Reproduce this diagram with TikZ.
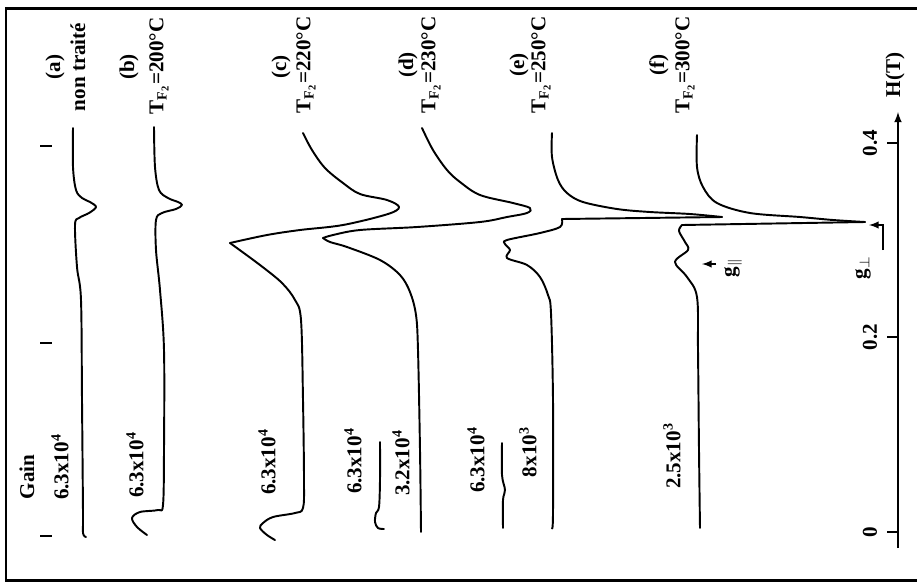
\documentclass[tikz,border=0pt]{standalone}
\usepackage{fontspec}
\setmainfont{Liberation Serif}
\begin{document}
\begin{tikzpicture}[x=0.02cm,y=-0.02cm,
    trace/.style={line width=1.1pt,line join=round,line cap=round},
    lbl/.style={rotate=90,inner sep=0pt,font=\fontsize{12}{13}\selectfont\bfseries},
    fieldtick/.style={line width=1.2pt}]
\useasboundingbox (0,0) rectangle (917,586);
\draw[line width=1.7pt] (6,8) rectangle (940,580);

% field axis
\coordinate (hbot) at (898,548);
\coordinate (htop) at (898,112);
\draw[line width=1pt,-latex] (hbot) -- (htop);
\node[lbl] (hlab) at (895,75) {H(T)};
\foreach \y/\t [count=\i] in {532/0,337/0.2,143/0.4}
{
    \draw[line width=1pt] (887,\y) -- (hbot|-0,\y);
    \node[lbl] (tick\i) at (870,\y) {\t};
}
\foreach \y in {146,343,536}
    \draw[fieldtick] (40,\y) -- (52,\y);

% spectra
\draw[trace] plot[smooth,tension=0.55] coordinates {(73,128) (73,167) (76,190) (82,198) (90,202) (96,207) (89,213) (79,218) (75,225) (77,267) (81,300) (82,400) (83,513) (83,533) (86,537)};
\draw[trace] plot[smooth,tension=0.55] coordinates {(154,127) (155,167) (159,190) (168,198) (178,202) (182,205) (176,209) (162,213) (156,220) (156,250) (160,290) (164,350) (164,450) (163,505) (158,510) (140,512) (132,518) (137,527) (147,535)};
\draw[trace] plot[smooth,tension=0.55] coordinates {(303,133) (312,150) (325,168) (343,183) (360,194) (387,200) (399,207) (388,214) (343,225) (300,230) (267,235) (230,243)};
\draw[trace] plot[smooth,tension=0.55] coordinates {(230,243) (260,265) (282,283) (295,300) (301,320) (303,400) (304,480) (303,508) (295,513) (273,517) (263,523) (260,528) (267,535) (275,540)};
\draw[trace] plot[smooth,tension=0.55] coordinates {(422,128) (433,150) (447,170) (460,182) (480,195) (513,203) (530,208) (527,213) (507,217) (480,222) (417,227) (360,230) (333,235) (323,238)};
\draw[trace] plot[smooth,tension=0.55] coordinates {(323,238) (330,242) (347,247) (380,260) (400,275) (410,292) (416,315) (418,350) (420,450) (421,532)};
\draw[trace] plot[smooth,tension=0.55] coordinates {(380,442) (380,480) (379,507) (376,513) (375,522) (378,528) (384,529)};
\draw[trace] plot[smooth,tension=0.55] coordinates {(552,133) (552,157) (558,180) (567,193) (583,202) (617,209) (650,212) (690,214) (722,217)};
\draw[trace] (722,217) -- (562,219);
\draw[trace] plot[smooth,tension=0.55] coordinates {(562,219) (560,227) (540,233) (507,240) (505,244) (510,250) (507,258) (527,265) (540,277) (548,295) (551,313) (553,400) (553,513) (552,528)};
\draw[trace] plot[smooth,tension=0.55] coordinates {(502,443) (502,475) (505,490) (503,500) (503,528)};
\draw[trace] plot[smooth,tension=0.55] coordinates {(697,135) (697,167) (703,187) (717,203) (750,213) (800,217) (833,220) (865,222)};
\draw[trace] (865,222) -- (682,225);
\draw[trace] plot[smooth,tension=0.55] coordinates {(682,225) (679,231) (685,242) (688,250) (675,262) (687,277) (697,297) (698,350) (699,450) (700,528)};

% sample labels
\node[lbl] (la) at (55,67) {(a)};
\node[lbl] (ta) at (78,67) {non traité};
\node[lbl] (lb) at (129,67) {(b)};
\node[lbl] (tb) at (159,66) {T\textsubscript{F\textsubscript{2}}=200°C};
\node[lbl] (lc) at (281,67) {(c)};
\node[lbl] (tc) at (306,65) {T\textsubscript{F\textsubscript{2}}=220°C};
\node[lbl] (ld) at (408,65) {(d)};
\node[lbl] (td) at (431,65) {T\textsubscript{F\textsubscript{2}}=230°C};
\node[lbl] (le) at (519,65) {(e)};
\node[lbl] (te) at (541,65) {T\textsubscript{F\textsubscript{2}}=250°C};
\node[lbl] (lf) at (659,65) {(f)};
\node[lbl] (tf) at (685,65) {T\textsubscript{F\textsubscript{2}}=300°C};

% gains
\node[lbl] (gain) at (27,477) {Gain};
\node[lbl] (ga) at (60,467) {6.3x10\textsuperscript{4}};
\node[lbl] (gb) at (135,465) {6.3x10\textsuperscript{4}};
\node[lbl] (gc) at (267,462) {6.3x10\textsuperscript{4}};
\node[lbl] (gd1) at (353,461) {6.3x10\textsuperscript{4}};
\node[lbl] (gd2) at (401,463) {3.2x10\textsuperscript{4}};
\node[lbl] (ge1) at (476,460) {6.3x10\textsuperscript{4}};
\node[lbl] (ge2) at (528,452) {8x10\textsuperscript{3}};
\node[lbl] (gf) at (672,456) {2.5x10\textsuperscript{3}};

% g values
\node[lbl] (gpar) at (733,268) {g$_{\parallel}$};
\node[lbl] (gperp) at (863,268) {g$_{\perp}$};
\coordinate (parend) at (716,264);
\coordinate (partip) at (702,264);
\draw[line width=0.9pt,-latex] (parend) -- (partip);
\coordinate (perpfoot) at (883,250);
\coordinate (perpcorner) at (883,225);
\coordinate (perptip) at (869,225);
\draw[line width=0.9pt,-latex] (perpfoot) -- (perpcorner) -- (perptip);
\end{tikzpicture}
\end{document}
